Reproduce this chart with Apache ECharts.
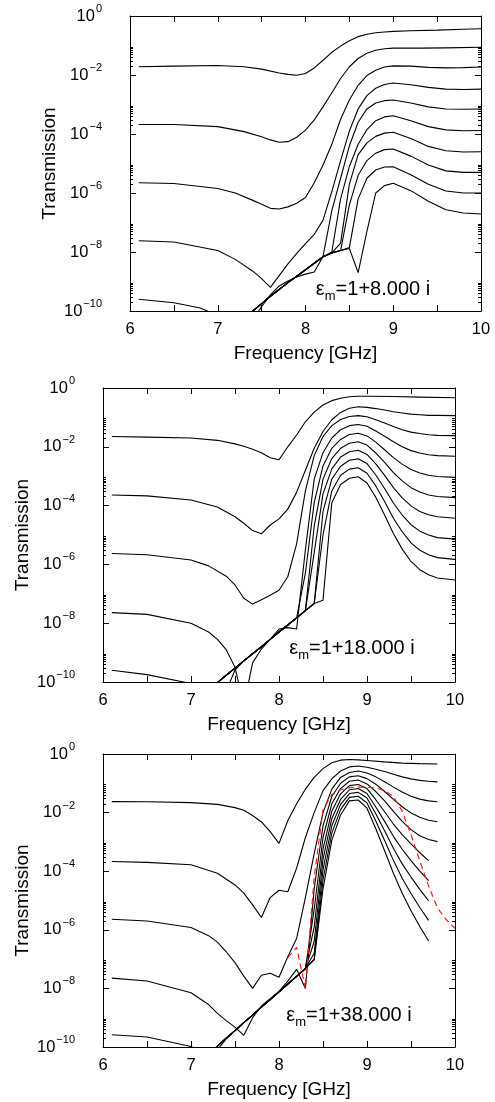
<!DOCTYPE html>
<html>
<head>
<meta charset="utf-8">
<script src="https://cdn.jsdelivr.net/npm/echarts@6/dist/echarts.min.js"></script>
<style>
  html, body { margin: 0; padding: 0; background: #fff; }
  #chart { width: 495px; height: 1102px; }
</style>
</head>
<body>
<div id="chart"></div>
<script>
// Transmission spectra for 1..10 layers, stored as [frequency GHz, log10(T)].
// Panel 1: eps_m = 1 + 8 i
const logT8 = [
  [[6.1,-1.72],[6.5,-1.70],[7.0,-1.68],[7.3,-1.72],[7.5,-1.80],[7.7,-1.93],[7.8,-1.98],[7.9,-2.01],[8.0,-1.95],[8.1,-1.76],[8.2,-1.50],[8.3,-1.23],[8.4,-1.02],[8.5,-0.84],[8.6,-0.70],[8.7,-0.62],[8.8,-0.57],[8.9,-0.54],[9.0,-0.52],[9.2,-0.50],[9.5,-0.48],[9.8,-0.45],[10.0,-0.43]],
  [[6.1,-3.68],[6.5,-3.68],[7.0,-3.75],[7.3,-3.92],[7.5,-4.09],[7.6,-4.20],[7.7,-4.28],[7.8,-4.26],[7.9,-4.11],[8.0,-3.87],[8.1,-3.52],[8.2,-3.08],[8.3,-2.60],[8.4,-2.12],[8.5,-1.72],[8.6,-1.44],[8.7,-1.26],[8.8,-1.16],[8.9,-1.11],[9.0,-1.09],[9.3,-1.09],[9.6,-1.08],[10.0,-1.06]],
  [[6.1,-5.65],[6.5,-5.68],[7.0,-5.85],[7.2,-6.00],[7.4,-6.25],[7.5,-6.38],[7.6,-6.52],[7.7,-6.54],[7.8,-6.47],[7.9,-6.35],[8.0,-6.15],[8.1,-5.65],[8.2,-5.05],[8.3,-4.35],[8.4,-3.50],[8.5,-2.85],[8.6,-2.35],[8.7,-2.02],[8.8,-1.84],[8.9,-1.73],[9.0,-1.69],[9.2,-1.70],[9.4,-1.74],[9.6,-1.76],[9.8,-1.75],[10.0,-1.73]],
  [[6.1,-7.62],[6.5,-7.66],[7.0,-7.95],[7.2,-8.25],[7.4,-8.65],[7.5,-8.90],[7.6,-9.20],[7.7,-8.80],[7.8,-8.40],[7.9,-8.05],[8.0,-7.72],[8.1,-7.40],[8.2,-6.92],[8.3,-5.95],[8.4,-4.90],[8.5,-3.90],[8.6,-3.15],[8.7,-2.70],[8.8,-2.45],[8.9,-2.32],[9.0,-2.27],[9.2,-2.33],[9.4,-2.42],[9.6,-2.48],[9.8,-2.49],[10.0,-2.48]],
  [[6.1,-9.60],[6.5,-9.72],[6.8,-9.90],[7.0,-10.15],[7.2,-10.50],[7.3,-10.60],[7.4,-10.30],[7.5,-9.85],[7.6,-9.45],[7.7,-9.15],[7.8,-8.98],[7.9,-8.85],[8.0,-8.75],[8.1,-8.68],[8.2,-8.15],[8.3,-6.60],[8.4,-5.50],[8.5,-4.40],[8.6,-3.60],[8.7,-3.15],[8.8,-2.95],[8.9,-2.87],[9.0,-2.85],[9.2,-2.95],[9.4,-3.08],[9.6,-3.15],[9.8,-3.16],[10.0,-3.15]],
  [[7.2,-10.50],[7.3,-10.25],[7.4,-10.00],[7.5,-9.75],[7.6,-9.50],[7.7,-9.27],[7.8,-9.04],[7.9,-8.82],[8.0,-8.60],[8.1,-8.38],[8.2,-8.16],[8.3,-8.00],[8.4,-6.20],[8.5,-5.10],[8.6,-4.35],[8.7,-3.85],[8.8,-3.55],[8.9,-3.42],[9.0,-3.38],[9.2,-3.55],[9.4,-3.75],[9.6,-3.86],[9.8,-3.89],[10.0,-3.88]],
  [[7.2,-10.50],[7.3,-10.25],[7.4,-10.00],[7.5,-9.75],[7.6,-9.50],[7.7,-9.27],[7.8,-9.04],[7.9,-8.82],[8.0,-8.60],[8.1,-8.38],[8.2,-8.16],[8.3,-8.03],[8.4,-7.70],[8.5,-5.70],[8.6,-4.70],[8.7,-4.30],[8.8,-4.08],[8.9,-3.97],[9.0,-3.94],[9.2,-4.15],[9.4,-4.42],[9.6,-4.57],[9.8,-4.61],[10.0,-4.60]],
  [[7.2,-10.50],[7.3,-10.25],[7.4,-10.00],[7.5,-9.75],[7.6,-9.50],[7.7,-9.27],[7.8,-9.04],[7.9,-8.82],[8.0,-8.60],[8.1,-8.38],[8.2,-8.16],[8.3,-8.03],[8.4,-7.95],[8.5,-6.40],[8.6,-5.40],[8.7,-4.90],[8.8,-4.65],[8.9,-4.53],[9.0,-4.51],[9.2,-4.75],[9.4,-5.05],[9.6,-5.25],[9.8,-5.30],[10.0,-5.30]],
  [[7.2,-10.50],[7.3,-10.25],[7.4,-10.00],[7.5,-9.75],[7.6,-9.50],[7.7,-9.27],[7.8,-9.04],[7.9,-8.82],[8.0,-8.60],[8.1,-8.38],[8.2,-8.16],[8.3,-8.03],[8.4,-7.95],[8.5,-7.85],[8.6,-6.20],[8.7,-5.50],[8.8,-5.22],[8.9,-5.12],[9.0,-5.11],[9.2,-5.38],[9.4,-5.70],[9.6,-5.93],[9.8,-6.00],[10.0,-6.00]],
  [[7.2,-10.50],[7.3,-10.25],[7.4,-10.00],[7.5,-9.75],[7.6,-9.50],[7.7,-9.27],[7.8,-9.04],[7.9,-8.82],[8.0,-8.60],[8.1,-8.38],[8.2,-8.16],[8.3,-8.03],[8.4,-7.95],[8.5,-7.88],[8.6,-8.70],[8.7,-7.30],[8.8,-6.00],[8.9,-5.75],[9.0,-5.67],[9.2,-5.92],[9.4,-6.28],[9.6,-6.57],[9.8,-6.68],[10.0,-6.71]]
];

// Panel 2: eps_m = 1 + 18 i
const logT18 = [
  [[6.1,-1.65],[6.5,-1.67],[7.0,-1.70],[7.3,-1.78],[7.5,-1.90],[7.6,-1.98],[7.7,-2.08],[7.8,-2.20],[7.9,-2.37],[8.0,-2.44],[8.1,-2.00],[8.2,-1.60],[8.3,-1.15],[8.4,-0.82],[8.5,-0.58],[8.6,-0.43],[8.7,-0.35],[8.8,-0.30],[8.9,-0.28],[9.0,-0.28],[9.3,-0.29],[9.6,-0.31],[10.0,-0.33]],
  [[6.1,-3.64],[6.5,-3.67],[7.0,-3.81],[7.3,-4.05],[7.5,-4.38],[7.6,-4.60],[7.7,-4.85],[7.8,-4.96],[7.9,-4.66],[8.0,-4.45],[8.1,-4.12],[8.2,-3.55],[8.3,-2.80],[8.4,-2.05],[8.5,-1.48],[8.6,-1.08],[8.7,-0.83],[8.8,-0.69],[8.9,-0.64],[9.0,-0.66],[9.1,-0.70],[9.2,-0.75],[9.3,-0.81],[9.4,-0.85],[9.5,-0.89],[9.6,-0.91],[9.7,-0.93],[9.8,-0.93],[10.0,-0.94]],
  [[6.1,-5.63],[6.5,-5.67],[7.0,-5.85],[7.2,-6.05],[7.4,-6.40],[7.5,-6.70],[7.6,-7.15],[7.7,-7.35],[7.8,-7.20],[7.9,-7.05],[8.0,-6.88],[8.1,-6.42],[8.2,-5.30],[8.3,-3.50],[8.4,-2.30],[8.5,-1.65],[8.6,-1.28],[8.7,-1.07],[8.8,-0.97],[8.9,-0.94],[9.0,-0.98],[9.1,-1.08],[9.2,-1.19],[9.3,-1.31],[9.4,-1.42],[9.5,-1.50],[9.6,-1.55],[9.7,-1.59],[9.8,-1.61],[10.0,-1.62]],
  [[6.1,-7.64],[6.5,-7.70],[7.0,-8.00],[7.2,-8.30],[7.3,-8.55],[7.4,-8.90],[7.5,-9.50],[7.6,-10.80],[7.7,-9.35],[7.8,-8.88],[7.9,-8.55],[8.0,-8.20],[8.1,-8.15],[8.2,-8.20],[8.3,-5.50],[8.4,-3.10],[8.5,-2.20],[8.6,-1.70],[8.7,-1.42],[8.8,-1.28],[8.9,-1.24],[9.0,-1.30],[9.1,-1.46],[9.2,-1.64],[9.3,-1.83],[9.4,-2.00],[9.5,-2.13],[9.6,-2.21],[9.7,-2.27],[9.8,-2.30],[10.0,-2.32]],
  [[6.1,-9.60],[6.5,-9.75],[7.0,-10.05],[7.2,-10.50],[7.4,-10.30],[7.5,-9.60],[7.6,-9.28],[7.7,-9.04],[7.8,-8.80],[7.9,-8.55],[8.0,-8.30],[8.1,-8.06],[8.2,-7.82],[8.3,-6.30],[8.4,-3.90],[8.5,-2.65],[8.6,-2.05],[8.7,-1.75],[8.8,-1.58],[8.9,-1.54],[9.0,-1.63],[9.1,-1.84],[9.2,-2.10],[9.3,-2.37],[9.4,-2.59],[9.5,-2.77],[9.6,-2.89],[9.7,-2.97],[9.8,-3.01],[10.0,-3.04]],
  [[7.2,-10.30],[7.3,-10.02],[7.4,-9.77],[7.5,-9.53],[7.6,-9.28],[7.7,-9.04],[7.8,-8.80],[7.9,-8.55],[8.0,-8.30],[8.1,-8.06],[8.2,-7.82],[8.3,-7.57],[8.4,-4.70],[8.5,-3.10],[8.6,-2.40],[8.7,-2.05],[8.8,-1.88],[8.9,-1.83],[9.0,-1.94],[9.1,-2.21],[9.2,-2.53],[9.3,-2.88],[9.4,-3.16],[9.5,-3.39],[9.6,-3.54],[9.7,-3.64],[9.8,-3.69],[10.0,-3.73]],
  [[7.2,-10.30],[7.3,-10.02],[7.4,-9.77],[7.5,-9.53],[7.6,-9.28],[7.7,-9.04],[7.8,-8.80],[7.9,-8.55],[8.0,-8.30],[8.1,-8.06],[8.2,-7.82],[8.3,-7.57],[8.4,-5.60],[8.5,-3.60],[8.6,-2.75],[8.7,-2.35],[8.8,-2.17],[8.9,-2.12],[9.0,-2.26],[9.1,-2.58],[9.2,-2.97],[9.3,-3.39],[9.4,-3.74],[9.5,-4.01],[9.6,-4.20],[9.7,-4.31],[9.8,-4.38],[10.0,-4.43]],
  [[7.2,-10.30],[7.3,-10.02],[7.4,-9.77],[7.5,-9.53],[7.6,-9.28],[7.7,-9.04],[7.8,-8.80],[7.9,-8.55],[8.0,-8.30],[8.1,-8.06],[8.2,-7.82],[8.3,-7.57],[8.4,-7.33],[8.5,-4.20],[8.6,-3.10],[8.7,-2.66],[8.8,-2.46],[8.9,-2.41],[9.0,-2.57],[9.1,-2.96],[9.2,-3.42],[9.3,-3.91],[9.4,-4.32],[9.5,-4.65],[9.6,-4.87],[9.7,-5.00],[9.8,-5.09],[10.0,-5.14]],
  [[7.2,-10.30],[7.3,-10.02],[7.4,-9.77],[7.5,-9.53],[7.6,-9.28],[7.7,-9.04],[7.8,-8.80],[7.9,-8.55],[8.0,-8.30],[8.1,-8.06],[8.2,-7.82],[8.3,-7.57],[8.4,-7.33],[8.5,-5.00],[8.6,-3.50],[8.7,-2.97],[8.8,-2.76],[8.9,-2.71],[9.0,-2.90],[9.1,-3.33],[9.2,-3.86],[9.3,-4.43],[9.4,-4.89],[9.5,-5.27],[9.6,-5.52],[9.7,-5.67],[9.8,-5.77],[10.0,-5.83]],
  [[7.2,-10.30],[7.3,-10.02],[7.4,-9.77],[7.5,-9.53],[7.6,-9.28],[7.7,-9.04],[7.8,-8.80],[7.9,-8.55],[8.0,-8.30],[8.1,-8.06],[8.2,-7.82],[8.3,-7.57],[8.4,-7.33],[8.5,-7.22],[8.6,-3.90],[8.7,-3.28],[8.8,-3.07],[8.9,-3.02],[9.0,-3.23],[9.1,-3.72],[9.2,-4.32],[9.3,-4.95],[9.4,-5.48],[9.5,-5.90],[9.6,-6.18],[9.7,-6.35],[9.8,-6.46],[10.0,-6.53]]
];

// Panel 3: eps_m = 1 + 38 i
const logT38 = [
  [[6.1,-1.625],[6.5,-1.63],[7.0,-1.66],[7.3,-1.72],[7.5,-1.83],[7.6,-1.92],[7.7,-2.10],[7.8,-2.32],[7.9,-2.65],[8.0,-3.05],[8.1,-2.28],[8.2,-1.70],[8.3,-1.20],[8.4,-0.80],[8.5,-0.50],[8.6,-0.30],[8.7,-0.21],[8.8,-0.19],[8.9,-0.20],[9.0,-0.22],[9.2,-0.27],[9.4,-0.31],[9.6,-0.33],[9.8,-0.34]],
  [[6.1,-3.67],[6.5,-3.70],[7.0,-3.78],[7.3,-4.07],[7.5,-4.47],[7.6,-4.75],[7.7,-5.15],[7.8,-5.58],[7.9,-4.90],[8.0,-4.65],[8.1,-4.70],[8.2,-3.90],[8.3,-2.85],[8.4,-2.00],[8.5,-1.25],[8.6,-0.85],[8.7,-0.58],[8.8,-0.44],[8.9,-0.41],[9.0,-0.45],[9.1,-0.52],[9.2,-0.60],[9.3,-0.69],[9.4,-0.78],[9.5,-0.85],[9.6,-0.90],[9.7,-0.93],[9.8,-0.95]],
  [[6.1,-5.64],[6.5,-5.70],[7.0,-5.92],[7.2,-6.20],[7.3,-6.42],[7.4,-6.75],[7.5,-7.12],[7.6,-7.58],[7.7,-8.00],[7.8,-7.55],[7.9,-7.48],[8.0,-7.62],[8.1,-6.92],[8.2,-6.30],[8.3,-4.90],[8.4,-3.40],[8.5,-2.00],[8.6,-1.20],[8.7,-0.80],[8.8,-0.63],[8.9,-0.58],[9.0,-0.65],[9.1,-0.78],[9.2,-0.95],[9.3,-1.13],[9.4,-1.30],[9.5,-1.44],[9.6,-1.54],[9.7,-1.60],[9.8,-1.63]],
  [[6.1,-7.65],[6.5,-7.75],[7.0,-8.15],[7.2,-8.55],[7.3,-8.85],[7.4,-9.10],[7.5,-9.32],[7.6,-9.60],[7.7,-9.00],[7.8,-8.60],[7.9,-8.35],[8.0,-8.10],[8.1,-7.75],[8.2,-7.35],[8.3,-8.00],[8.4,-4.60],[8.5,-2.45],[8.6,-1.45],[8.7,-1.00],[8.8,-0.78],[8.9,-0.74],[9.0,-0.84],[9.1,-1.03],[9.2,-1.28],[9.3,-1.55],[9.4,-1.80],[9.5,-2.01],[9.6,-2.16],[9.7,-2.26],[9.8,-2.31]],
  [[6.1,-9.58],[6.5,-9.66],[7.0,-9.98],[7.1,-10.15],[7.2,-10.40],[7.3,-10.10],[7.4,-9.72],[7.5,-9.44],[7.6,-9.17],[7.7,-8.91],[7.8,-8.64],[7.9,-8.38],[8.0,-8.12],[8.1,-7.85],[8.2,-7.59],[8.3,-7.32],[8.4,-5.30],[8.5,-2.85],[8.6,-1.70],[8.7,-1.18],[8.8,-0.93],[8.9,-0.89],[9.0,-1.02],[9.1,-1.28],[9.2,-1.60],[9.3,-1.96],[9.4,-2.30],[9.5,-2.58],[9.6,-2.79],[9.7,-2.92],[9.8,-2.99]],
  [[7.1,-10.55],[7.2,-10.25],[7.3,-9.97],[7.4,-9.70],[7.5,-9.44],[7.6,-9.17],[7.7,-8.91],[7.8,-8.64],[7.9,-8.38],[8.0,-8.12],[8.1,-7.85],[8.2,-7.59],[8.3,-7.32],[8.4,-5.90],[8.5,-3.25],[8.6,-1.95],[8.7,-1.36],[8.8,-1.08],[8.9,-1.04],[9.0,-1.18],[9.1,-1.56],[9.2,-1.97],[9.3,-2.39],[9.4,-2.75],[9.5,-3.07],[9.6,-3.37],[9.7,-3.64]],
  [[7.1,-10.55],[7.2,-10.25],[7.3,-9.97],[7.4,-9.70],[7.5,-9.44],[7.6,-9.17],[7.7,-8.91],[7.8,-8.64],[7.9,-8.38],[8.0,-8.12],[8.1,-7.85],[8.2,-7.59],[8.3,-7.32],[8.4,-6.40],[8.5,-3.60],[8.6,-2.20],[8.7,-1.55],[8.8,-1.22],[8.9,-1.18],[9.0,-1.35],[9.1,-1.81],[9.2,-2.30],[9.3,-2.81],[9.4,-3.25],[9.5,-3.64],[9.6,-4.00],[9.7,-4.32]],
  [[7.1,-10.55],[7.2,-10.25],[7.3,-9.97],[7.4,-9.70],[7.5,-9.44],[7.6,-9.17],[7.7,-8.91],[7.8,-8.64],[7.9,-8.38],[8.0,-8.12],[8.1,-7.85],[8.2,-7.59],[8.3,-7.32],[8.4,-6.80],[8.5,-3.95],[8.6,-2.45],[8.7,-1.72],[8.8,-1.35],[8.9,-1.31],[9.0,-1.50],[9.1,-2.04],[9.2,-2.62],[9.3,-3.22],[9.4,-3.75],[9.5,-4.20],[9.6,-4.62],[9.7,-5.01]],
  [[7.1,-10.55],[7.2,-10.25],[7.3,-9.97],[7.4,-9.70],[7.5,-9.44],[7.6,-9.17],[7.7,-8.91],[7.8,-8.64],[7.9,-8.38],[8.0,-8.12],[8.1,-7.85],[8.2,-7.59],[8.3,-7.32],[8.4,-7.00],[8.5,-4.30],[8.6,-2.70],[8.7,-1.90],[8.8,-1.48],[8.9,-1.44],[9.0,-1.67],[9.1,-2.29],[9.2,-2.95],[9.3,-3.63],[9.4,-4.24],[9.5,-4.76],[9.6,-5.24],[9.7,-5.68]],
  [[7.1,-10.55],[7.2,-10.25],[7.3,-9.97],[7.4,-9.70],[7.5,-9.44],[7.6,-9.17],[7.7,-8.91],[7.8,-8.64],[7.9,-8.38],[8.0,-8.12],[8.1,-7.85],[8.2,-7.59],[8.3,-7.32],[8.4,-7.03],[8.5,-4.60],[8.6,-2.95],[8.7,-2.08],[8.8,-1.60],[8.9,-1.57],[9.0,-1.85],[9.1,-2.55],[9.2,-3.30],[9.3,-4.07],[9.4,-4.75],[9.5,-5.35],[9.6,-5.89],[9.7,-6.38]]
];

// Dashed red reference curve in panel 3
const logT38Dashed = [[8.1,-6.95],[8.2,-6.60],[8.3,-8.00],[8.4,-4.20],[8.5,-1.91],[8.6,-1.38],[8.7,-1.22],[8.8,-1.15],[8.9,-1.13],[9.0,-1.13],[9.1,-1.16],[9.2,-1.25],[9.3,-1.45],[9.4,-1.95],[9.5,-2.75],[9.6,-3.65],[9.7,-4.50],[9.8,-5.25],[9.9,-5.65],[10.0,-5.95]];

const panelLabels = ['1+8.000 i', '1+18.000 i', '1+38.000 i'];
const freqLabels = [6, 7, 8, 9, 10];
const decadeExponents = [-10, -8, -6, -4, -2];   // decades that carry minor ticks
const minorMantissas = [2, 3, 4, 5, 6, 7, 8, 9];

const FONT = '"Liberation Sans", Arial, Helvetica, sans-serif';
const BLACK = '#000';

const grids = [
  { left: 130, top: 16, width: 351, height: 295 },
  { left: 103, top: 388, width: 352, height: 294 },
  { left: 103, top: 754, width: 352, height: 293 }
];
const labelPos = [[373, 293], [352, 652], [349, 1019]];

const minorTickValues = [];
decadeExponents.forEach(e => minorMantissas.forEach(m => minorTickValues.push(m * Math.pow(10, e))));

function powerLabel(v) {
  const e = Math.round(Math.log10(v));
  const s = e < 0 ? '\u2212' + Math.abs(e) : String(e);
  return '{b|10}{s|' + s + '}';
}

const xAxes = [], yAxes = [], series = [], graphics = [];

grids.forEach((g, i) => {
  xAxes.push({
    gridIndex: i, type: 'value', min: 6, max: 10, interval: 0.5, position: 'bottom',
    axisLine: { show: true, lineStyle: { color: BLACK, width: 1 } },
    axisTick: { show: true, inside: true, length: 6, lineStyle: { color: BLACK } },
    axisLabel: {
      color: BLACK, fontFamily: FONT, fontSize: 16.5, margin: 10,
      formatter: v => (freqLabels.indexOf(v) >= 0 ? String(v) : '')
    },
    splitLine: { show: false },
    name: 'Frequency [GHz]', nameLocation: 'middle', nameGap: 33, nameMoveOverlap: false,
    nameTextStyle: { color: BLACK, fontFamily: FONT, fontSize: 19 }
  });
  xAxes.push({
    gridIndex: i, type: 'value', min: 6, max: 10, interval: 0.5, position: 'top',
    axisLine: { show: true, lineStyle: { color: BLACK, width: 1 } },
    axisTick: { show: true, inside: true, length: 6, lineStyle: { color: BLACK } },
    axisLabel: { show: false }, splitLine: { show: false }
  });
  const logBase = {
    gridIndex: i, type: 'log', logBase: 10, min: 1e-10, max: 1, interval: 2,
    splitLine: { show: false }
  };
  yAxes.push(Object.assign({}, logBase, {
    position: 'left',
    axisLine: { show: true, lineStyle: { color: BLACK, width: 1 } },
    axisTick: { show: true, inside: true, length: 6, lineStyle: { color: BLACK } },
    axisLabel: {
      margin: 28, color: BLACK, fontFamily: FONT, formatter: powerLabel,
      rich: {
        b: { fontSize: 16.5, fontFamily: FONT, color: BLACK, lineHeight: 16, verticalAlign: 'middle' },
        s: { fontSize: 11, fontFamily: FONT, color: BLACK, lineHeight: 11, verticalAlign: 'middle', padding: [0, 0, 14, 1] }
      }
    },
    name: 'Transmission', nameLocation: 'middle', nameGap: 71, nameRotate: 90, nameMoveOverlap: false,
    nameTextStyle: { color: BLACK, fontFamily: FONT, fontSize: 19 }
  }));
  yAxes.push(Object.assign({}, logBase, {
    position: 'right',
    axisLine: { show: true, lineStyle: { color: BLACK, width: 1 } },
    axisTick: { show: true, inside: true, length: 6, lineStyle: { color: BLACK } },
    axisLabel: { show: false }
  }));
  ['left', 'right'].forEach(pos => {
    yAxes.push(Object.assign({}, logBase, {
      position: pos,
      axisLine: { show: false },
      axisTick: { show: true, inside: true, length: 3, customValues: minorTickValues, lineStyle: { color: BLACK } },
      axisLabel: { show: false }
    }));
  });

  graphics.push({
    type: 'text', x: labelPos[i][0], y: labelPos[i][1], silent: true,
    style: {
      text: '{e|\u03b5}{m|m}{t|=' + panelLabels[i] + '}',
      align: 'center', verticalAlign: 'middle', fill: BLACK,
      rich: {
        e: { fontSize: 20, fontFamily: FONT, fill: BLACK, lineHeight: 20, verticalAlign: 'bottom', padding: [0, 0, 4, 0] },
        m: { fontSize: 13, fontFamily: FONT, fill: BLACK, lineHeight: 13, verticalAlign: 'bottom' },
        t: { fontSize: 20, fontFamily: FONT, fill: BLACK, lineHeight: 20, verticalAlign: 'bottom', padding: [0, 0, 4, 0] }
      }
    }
  });
});

const toPoints = curve => curve.map(([f, e]) => [f, Math.pow(10, e)]);

[logT8, logT18, logT38].forEach((panel, i) => {
  panel.forEach((curve, n) => {
    series.push({
      name: 'N' + (n + 1), type: 'line', xAxisIndex: 2 * i, yAxisIndex: 4 * i,
      data: toPoints(curve), showSymbol: false, symbol: 'none', clip: true, silent: true,
      lineStyle: { color: BLACK, width: 1.1 }
    });
  });
});
series.push({
  name: 'dashed', type: 'line', xAxisIndex: 4, yAxisIndex: 8,
  data: toPoints(logT38Dashed), showSymbol: false, symbol: 'none', clip: true, silent: true,
  lineStyle: { color: '#ff1a1a', width: 1.2, type: [6, 4] }
});

const chart = echarts.init(document.getElementById('chart'), null, { renderer: 'canvas' });
chart.setOption({
  backgroundColor: '#fff',
  animation: false,
  grid: grids.map(g => Object.assign({ containLabel: false }, g)),
  xAxis: xAxes,
  yAxis: yAxes,
  series: series,
  graphic: graphics
});
</script>
</body>
</html>
